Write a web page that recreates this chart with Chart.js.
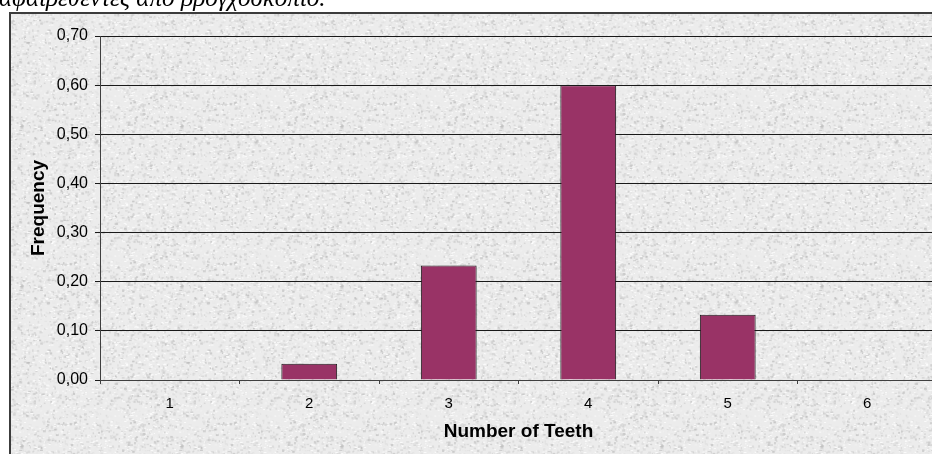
<!DOCTYPE html>
<html>
<head>
    <meta charset="utf-8">
    <title>Number of Teeth</title>
    <script src="https://cdn.jsdelivr.net/npm/chart.js"></script>
    <style>
        html, body { margin: 0; padding: 0; background: #fff; overflow: hidden; }
        #wrap { position: relative; width: 932px; height: 454px; overflow: hidden; }
        #caption {
            position: absolute; left: -1px; top: -15px; z-index: 2;
            font: italic 25px "Liberation Serif", "DejaVu Serif", serif;
            line-height: 25px; color: #000; white-space: nowrap;
        }
        #chart-box { position: absolute; left: 0; top: 0; width: 960px; height: 454px; }
    </style>
</head>
<body>
    <div id="wrap">
        <div id="caption">αφαιρεθέντες από βρογχοσκόπιο.</div>
        <div id="chart-box"><canvas id="teeth"></canvas></div>
    </div>

    <script>
        // 数据
        var teethLabels = ['1', '2', '3', '4', '5', '6'];
        var frequency = [0, 0.033, 0.233, 0.60, 0.133, 0];
        var yTicks = { min: 0, max: 0.70, step: 0.10 };

        // 灰色花岗岩纹理 (确定性伪随机)
        function makeGranite() {
            var c = document.createElement('canvas');
            c.width = 160; c.height = 160;
            var g = c.getContext('2d');
            g.fillStyle = '#ececec';
            g.fillRect(0, 0, 160, 160);
            var seed = 12345;
            function rnd() { seed = (seed * 1103515245 + 12345) & 0x7fffffff; return seed / 0x7fffffff; }
            for (var i = 0; i < 2600; i++) {
                var x = rnd() * 160, y = rnd() * 160;
                var v = Math.round(180 + rnd() * 65);
                g.fillStyle = 'rgba(' + v + ',' + v + ',' + v + ',' + (0.3 + rnd() * 0.4) + ')';
                g.fillRect(x, y, 1 + rnd() * 2, 1 + rnd() * 1.5);
            }
            for (var j = 0; j < 1000; j++) {
                g.fillStyle = 'rgba(255,255,255,0.75)';
                g.fillRect(rnd() * 160, rnd() * 160, 1 + rnd() * 2, 1);
            }
            return c;
        }
        var granite = makeGranite();

        // 图表外框与纹理背景
        var backdrop = {
            id: 'backdrop',
            beforeDraw: function(chart) {
                var ctx = chart.ctx;
                ctx.save();
                ctx.fillStyle = ctx.createPattern(granite, 'repeat');
                ctx.fillRect(10, 13, chart.width - 10, chart.height - 13);
                ctx.strokeStyle = '#3c3c3c';
                ctx.lineWidth = 2;
                ctx.strokeRect(10, 13, chart.width + 10, chart.height + 10);
                ctx.restore();
            }
        };

        var axisFont = 'Liberation Sans, Arial, sans-serif';

        var ctx = document.getElementById('teeth').getContext('2d');
        new Chart(ctx, {
            type: 'bar',
            data: {
                labels: teethLabels,
                datasets: [{
                    data: frequency,
                    backgroundColor: '#993366',
                    borderColor: '#1a1a1a',
                    borderWidth: 1,
                    barPercentage: 0.4,
                    categoryPercentage: 1.0
                }]
            },
            options: {
                responsive: true,
                maintainAspectRatio: false,
                animation: false,
                layout: { padding: { left: 0, top: 36, right: 23, bottom: 0 } },
                plugins: {
                    legend: { display: false },
                    tooltip: { enabled: false }
                },
                scales: {
                    x: {
                        afterFit: function(s) { s.height = 74; },
                        grid: { drawOnChartArea: false, drawTicks: true, tickLength: 4, color: '#404040', offset: true },
                        border: { color: '#404040', width: 1 },
                        ticks: { color: '#000', font: { family: axisFont, size: 15 }, padding: 11 },
                        title: {
                            display: true, text: 'Number of Teeth', color: '#000',
                            font: { family: axisFont, size: 19, weight: 'bold' },
                            padding: { top: 0, bottom: 11 }
                        }
                    },
                    y: {
                        min: yTicks.min,
                        max: yTicks.max,
                        afterFit: function(s) { s.width = 100; },
                        grid: { color: '#1a1a1a', lineWidth: 1, tickLength: 5 },
                        border: { color: '#404040', width: 1 },
                        ticks: {
                            stepSize: yTicks.step,
                            color: '#000',
                            padding: 7,
                            font: { family: axisFont, size: 16 },
                            callback: function(v) { return v.toFixed(2).replace('.', ','); }
                        },
                        title: {
                            display: true, text: 'Frequency', color: '#000',
                            font: { family: axisFont, size: 19, weight: 'bold' },
                            padding: { top: 27, bottom: 0 }
                        }
                    }
                }
            },
            plugins: [backdrop]
        });
    </script>
</body>
</html>
